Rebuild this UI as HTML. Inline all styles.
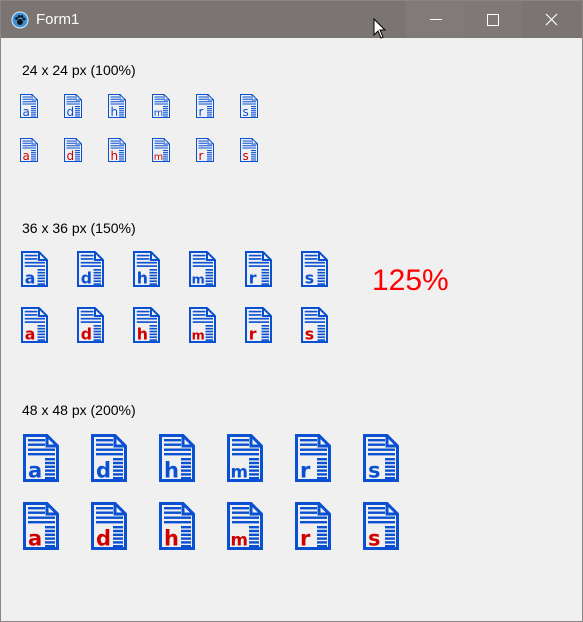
<!DOCTYPE html>
<html><head><meta charset="utf-8"><style>
body{margin:0;width:583px;height:622px;overflow:hidden;background:#f0f0f0;font-family:"Liberation Sans","DejaVu Sans",sans-serif;position:relative}
#win{position:absolute;left:0;top:0;width:581px;height:620px;border:1px solid #8a8584;background:#f0f0f0}
#tb{position:absolute;left:0;top:0;width:581px;height:37px;background:#7a7472}
.btn{position:absolute;top:0;height:37px;width:58px}
.lbl{position:absolute;font-size:14px;color:#000}
.ic{position:absolute}
</style></head><body>
<div id="win">
<div id="tb">
<svg style="position:absolute;left:10px;top:10px" width="18" height="18" viewBox="0 0 18 18"><circle cx="9" cy="9" r="8" fill="#3a8fd8" stroke="#dfeefa" stroke-width="1"/><circle cx="9" cy="11" r="3" fill="#111"/><circle cx="5.5" cy="7.5" r="1.4" fill="#111"/><circle cx="8" cy="5.5" r="1.4" fill="#111"/><circle cx="11" cy="5.5" r="1.4" fill="#111"/><circle cx="13" cy="8" r="1.4" fill="#111"/></svg>
<div style="position:absolute;left:35px;top:10px;color:#fff;font-size:15px">Form1</div>
<div class="btn" style="left:405px;background:#807a78"><div style="position:absolute;left:24px;top:18px;width:12px;height:1px;background:#fff"></div></div>
<div class="btn" style="left:463px;background:#7e7876"><div style="position:absolute;left:23px;top:13px;width:10px;height:10px;border:1px solid #fff"></div></div>
<div class="btn" style="left:521px"><svg width="58" height="37"><path d="M24 13 L35 24 M35 13 L24 24" stroke="#fff" stroke-width="1.2"/></svg></div>
<svg style="position:absolute;left:372px;top:17px" width="14" height="22"><path d="M1 1 L1 17 L5 13 L8 20 L10 19 L7 12 L12 12 Z" fill="#fff" stroke="#000"/></svg>
</div>
<div class="lbl" style="left:21px;top:61px">24 x 24 px (100%)</div>
<div class="lbl" style="left:21px;top:219px">36 x 36 px (150%)</div>
<div class="lbl" style="left:21px;top:401px">48 x 48 px (200%)</div>
<div style="position:absolute;left:371px;top:263px;color:#f00;font-size:30px">125%</div>
<div id="icons"></div>
</div>
<script>
const letters=['a','d','h','m','r','s'];
const groups=[{s:0.5,x0:19,dx:44,ys:[93,137],n:'24',sw:2,lh:2,fw:'normal',fs:24},{s:0.75,x0:20,dx:56,ys:[250,306],n:'36',sw:2.67,lh:2.2,fw:'bold',fs:21},{s:1,x0:22,dx:68,ys:[433,501],n:'48',sw:3,lh:2.4,fw:'bold',fs:21}];
const cont=document.getElementById('icons');
groups.forEach(g=>{g.ys.forEach((y,ri)=>{letters.forEach((L,i)=>{
 const w=36*g.s,h=48*g.s;const col=ri==0?'#0a50d2':'#d00000';
 const d=document.createElement('div');d.className='ic';
 
 
 d.style.left=(g.x0+i*g.dx)+'px';d.style.top=y+'px';
 const o=g.sw/2;
 let right='';for(let k=0;k<6;k++){right+=`<rect x="22" y="${24+k*3.8}" width="10" height="${g.lh}"/>`;}
 const fs=L=='m'?g.fs*0.8:g.fs;
 d.innerHTML=`<svg width="${w}" height="${h}" viewBox="0 0 36 48"><g fill="#0a50d2"><path d="M${o} ${o} H24 L${36-o} 12 V${48-o} H${o} Z M24 ${o} V12 H${36-o}" fill="none" stroke="#0a50d2" stroke-width="${g.sw}"/><rect x="5" y="5" width="17" height="${g.lh}"/><rect x="5" y="9.5" width="17" height="${g.lh}"/><rect x="5" y="14.5" width="27" height="${g.lh}"/><rect x="5" y="19" width="27" height="${g.lh}"/>${right}</g><text x="${L=='m'?3.5:5}" y="43.5" font-family="DejaVu Sans, sans-serif" font-weight="${g.fw}" font-size="${fs}" fill="${col}">${L}</text></svg>`;
 cont.appendChild(d);});});});
</script>
</body></html>
